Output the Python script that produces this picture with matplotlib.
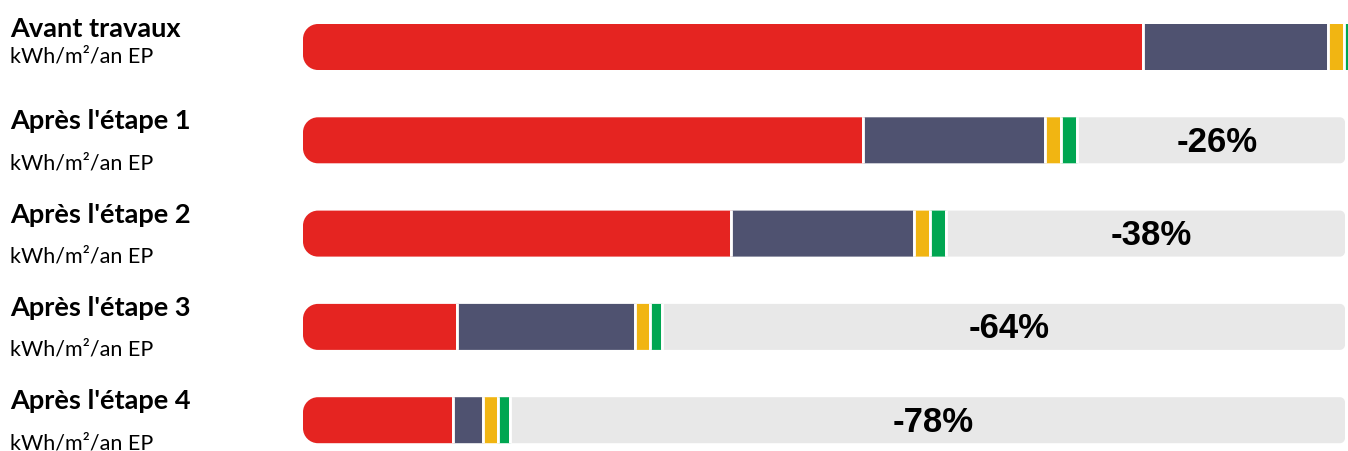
import numpy as np
import matplotlib.pyplot as plt
from matplotlib.path import Path
from matplotlib.patches import PathPatch

# rows, top to bottom
titles = ["Avant travaux", "Après l'étape 1", "Après l'étape 2", "Après l'étape 3", "Après l'étape 4"]
unit = "kWh/m²/an EP"
reductions = ["", "-26%", "-38%", "-64%", "-78%"]

# segment values
red = [839.5, 559.5, 427.5, 153.5, 149.5]
navy = [185, 182, 183, 178, 30]
yellow = [16, 16, 16, 15, 15]
green = [16, 16, 16, 12.5, 12]
full = 1042  # length of the grey background bar

colors = ["#E52421", "#4F5270", "#F1B512", "#00A651"]
grey = "#E8E8E8"

W, H = 1348, 451
fig = plt.figure(figsize=(W / 100, H / 100), dpi=100)
ax = fig.add_axes([303 / W, 0, 1 - 303 / W, 1])
ax.set_xlim(0, W - 303)
row_px = 93.3
ax.set_ylim((H - 47) / row_px, -47 / row_px)
ax.axis("off")

bar_h = 46 / row_px
k = 0.5523


def rounded(x0, x1, yc, h, rl, rr):
    # rounded rectangle in data units, radii given in pixels
    y0, y1 = yc - h / 2, yc + h / 2
    lx, ly = rl, rl / row_px
    rx, ry = rr, rr / row_px
    verts = [
        (x0 + lx, y0), (x1 - rx, y0),
        (x1 - rx + k * rx, y0), (x1, y0 + ry - k * ry), (x1, y0 + ry),
        (x1, y1 - ry),
        (x1, y1 - ry + k * ry), (x1 - rx + k * rx, y1), (x1 - rx, y1),
        (x0 + lx, y1),
        (x0 + lx - k * lx, y1), (x0, y1 - ly + k * ly), (x0, y1 - ly),
        (x0, y0 + ly),
        (x0, y0 + ly - k * ly), (x0 + lx - k * lx, y0), (x0 + lx, y0),
        (x0 + lx, y0),
    ]
    codes = [Path.MOVETO, Path.LINETO] + [Path.CURVE4] * 3 + [Path.LINETO] + [Path.CURVE4] * 3 \
        + [Path.LINETO] + [Path.CURVE4] * 3 + [Path.LINETO] + [Path.CURVE4] * 3 + [Path.CLOSEPOLY]
    return Path(verts, codes)


for i in range(len(titles)):
    segs = [red[i], navy[i], yellow[i], green[i]]
    total = sum(segs)
    end = max(full, total)
    clip = PathPatch(rounded(0, end, i, bar_h, 15, 5), transform=ax.transData,
                     facecolor="none", edgecolor="none")
    ax.add_patch(clip)
    left = 0
    bars = []
    for j, (v, c) in enumerate(zip(segs, colors)):
        # first segment starts a little left so its white edge falls outside the clip
        pad = 5 if j == 0 else 0
        bars.append(ax.barh(i, v + pad, left=left - pad, height=bar_h * 1.15, color=c,
                            edgecolor="white", linewidth=2.0)[0])
        left += v
    if total < full:
        bars.append(ax.barh(i, full - total + 5, left=total, height=bar_h * 1.15, color=grey,
                            edgecolor="white", linewidth=2.0)[0])
        ax.text((total + full) / 2 + 6, i + 0.02, reductions[i], ha="center", va="center",
                fontsize=25, fontweight="bold", family="Liberation Sans", color="black")
    for b in bars:
        b.set_clip_path(clip)

    dy_title = 10 if i == 0 else 11
    dy_sub = -15 if i == 0 else -29
    ax.annotate(titles[i], xy=(10, i), xycoords=("figure pixels", "data"),
                xytext=(0, dy_title), textcoords="offset pixels", va="baseline",
                fontsize=19.5, fontweight="bold", family="Lato", annotation_clip=False)
    ax.annotate(unit, xy=(10, i), xycoords=("figure pixels", "data"),
                xytext=(0, dy_sub), textcoords="offset pixels", va="baseline",
                fontsize=15.5, family="Lato", annotation_clip=False)

fig.savefig("out.png", dpi=100)
